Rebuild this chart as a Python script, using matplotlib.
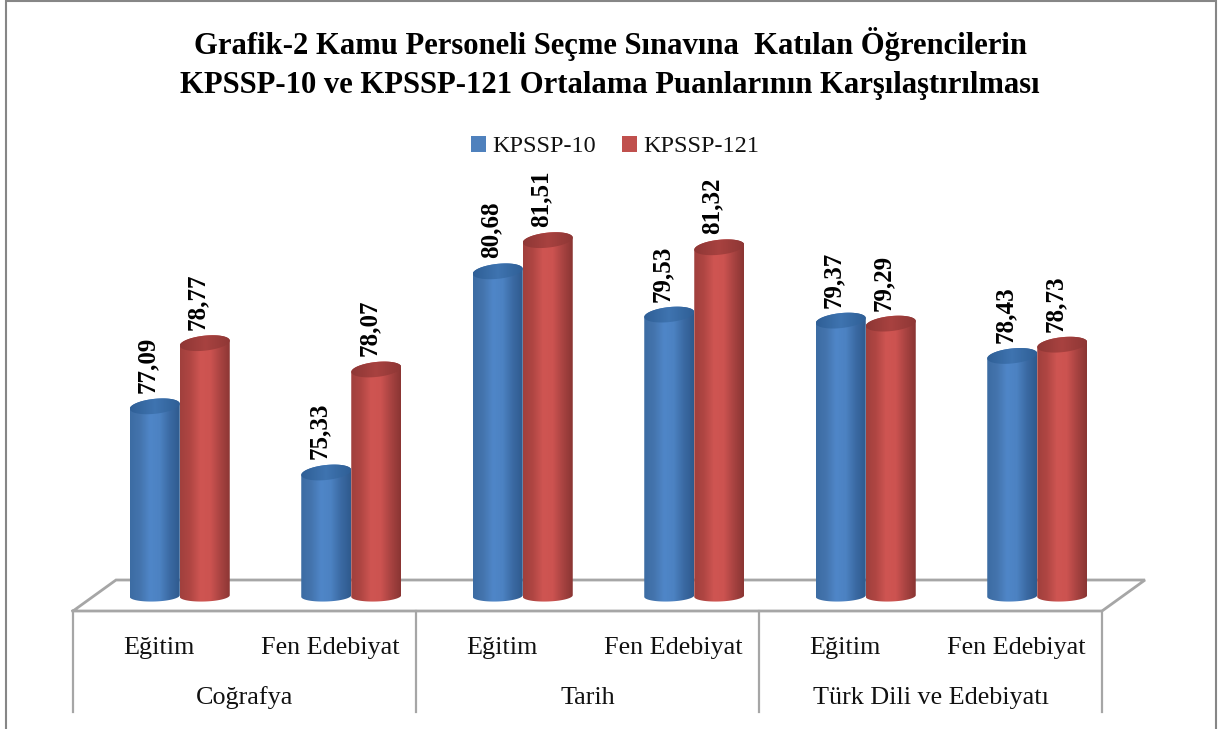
import numpy as np
import matplotlib
matplotlib.use("Agg")
import matplotlib.pyplot as plt
from matplotlib.colors import LinearSegmentedColormap
from matplotlib.lines import Line2D
from matplotlib.patches import PathPatch, Patch
from matplotlib.path import Path
from matplotlib.transforms import Affine2D

title_lines = ["Grafik-2 Kamu Personeli Seçme Sınavına  Katılan Öğrencilerin",
               "KPSSP-10 ve KPSSP-121 Ortalama Puanlarının Karşılaştırılması"]
faculties = ["Eğitim", "Fen Edebiyat", "Eğitim", "Fen Edebiyat", "Eğitim", "Fen Edebiyat"]
departments = ["Coğrafya", "Tarih", "Türk Dili ve Edebiyatı"]
series_names = ["KPSSP-10", "KPSSP-121"]
kpssp10 = [77.09, 75.33, 80.68, 79.53, 79.37, 78.43]
kpssp121 = [78.77, 78.07, 81.51, 81.32, 79.29, 78.73]

W, H = 1220, 729
SERIF = "Liberation Serif"
GRAY = "#a6a6a6"

fig = plt.figure(figsize=(W / 100, H / 100), dpi=100, facecolor="white")
left, right, top, bottom = 73, 1102, 200, 611
ax = fig.add_axes([left / W, 1 - bottom / H, (right - left) / W, (bottom - top) / H])

PX_PER_UNIT = 37.6
REF_VAL, REF_PX = 75.33, 472.5
y_of = lambda px: REF_VAL + (REF_PX - px) / PX_PER_UNIT
ax.set_xlim(0, 6)
ax.set_ylim(y_of(bottom), y_of(top))
px_x = 6 / (right - left)
px_y = 1 / PX_PER_UNIT
BASE = y_of(596)

cm_blue = LinearSegmentedColormap.from_list("b", ["#3c6ca3", "#4474ad", "#4f86c8", "#4c82c2", "#3b6aa3", "#2f5a8e"])
cm_red = LinearSegmentedColormap.from_list("r", ["#a0403d", "#b04643", "#cf5552", "#cc5350", "#a84341", "#8a3533"])
cm_blue_top = LinearSegmentedColormap.from_list("bt", ["#2f5f96", "#3f74b0", "#2f5f96"])
cm_red_top = LinearSegmentedColormap.from_list("rt", ["#8e3735", "#a84240", "#8e3735"])
grad = np.linspace(0, 1, 128).reshape(1, -1)


def ellipse_pts(xc, yc, a, b, tilt, t):
    xs = xc + a * np.cos(t)
    ys = yc + b * np.sin(t) + tilt * (xs - xc) / a
    return xs, ys


def cylinder(xc, value, cmap, cmap_top, z):
    a = 25 * px_x
    b_top, b_base = 7.5 * px_y, 5.5 * px_y
    tilt_top, tilt_base = 2.5 * px_y, 0.8 * px_y
    xb, yb = ellipse_pts(xc, BASE, a, b_base, tilt_base, np.linspace(np.pi, 2 * np.pi, 40))
    xt, yt = ellipse_pts(xc, value, a, b_top, tilt_top, np.linspace(0, np.pi, 40))
    verts = np.column_stack([np.r_[xb, xt, xb[0]], np.r_[yb, yt, yb[0]]])
    body = PathPatch(Path(verts), fc="none", ec="none", transform=ax.transData)
    ax.add_patch(body)
    im = ax.imshow(grad, cmap=cmap, extent=[xc - a, xc + a, BASE - 1, value + 1],
                   aspect="auto", zorder=z, interpolation="bilinear")
    im.set_clip_path(body)
    xe, ye = ellipse_pts(xc, value, a, b_top, tilt_top, np.linspace(0, 2 * np.pi, 80))
    cap = PathPatch(Path(np.column_stack([xe, ye])), fc="none", ec="none", transform=ax.transData)
    ax.add_patch(cap)
    imt = ax.imshow(grad, cmap=cmap_top, extent=[xc - a, xc + a, value - 1, value + 1],
                    aspect="auto", zorder=z + 0.1, interpolation="bilinear")
    imt.set_clip_path(cap)


positions = np.arange(len(faculties)) + 0.5
shift = 21 * px_x
half = 25 * px_x
for xc, v1, v2 in zip(positions, kpssp10, kpssp121):
    cylinder(xc + shift - half, v1, cm_blue, cm_blue_top, 3)
    cylinder(xc + shift + half, v2, cm_red, cm_red_top, 4)
    for x, v in ((xc + shift - half, v1), (xc + shift + half, v2)):
        ax.text(x - 7 * px_x, v + 13 * px_y, f"{v:.2f}".replace(".", ","), rotation=90,
                ha="center", va="bottom", fontsize=18, fontweight="bold",
                family=SERIF, color="black", zorder=6)

ax.set_xlim(0, 6)
ax.set_ylim(y_of(bottom), y_of(top))
ax.patch.set_alpha(0)
ax.set_zorder(1)
for s in ax.spines.values():
    s.set_visible(False)
ax.set_yticks([])
ax.set_xticks(positions, faculties, family=SERIF, fontsize=18.8, color="#111111")
ax.tick_params(axis="x", length=0, pad=19)

pixel = Affine2D().scale(1 / W, -1 / H).translate(0, 1) + fig.transFigure


def rule(xs, ys, color=GRAY, lw=1.6, z=0):
    line = Line2D(xs, ys, color=color, lw=lw, transform=pixel, solid_joinstyle="miter", zorder=z)
    fig.add_artist(line)


# frame
rule([6, 6, 1216, 1216], [729, 1.5, 1.5, 729], color="#868686", lw=1.5)
# floor, behind the cylinders
rule([73, 116, 1145, 1102, 73], [611, 580, 580, 611, 611], lw=2)
# hierarchical axis separators
n_groups = len(departments)
for k in range(n_groups + 1):
    x = left + k * (right - left) / n_groups
    rule([x, x], [611, 712])
for k, name in enumerate(departments):
    fig.text((left + (k + 0.5) * (right - left) / n_groups) / W, 1 - 698 / H, name, ha="center", va="center",
             family=SERIF, fontsize=18.8, color="#111111")

for line, py in zip(title_lines, (44, 85)):
    fig.text(610 / W, 1 - py / H, line, ha="center", va="center", family=SERIF,
             fontweight="bold", fontsize=22.1, color="black")

handles = [Patch(fc="#4f81bd", ec="none"), Patch(fc="#c0504d", ec="none")]
fig.legend(handles, series_names, loc="center", bbox_to_anchor=(615 / W, 1 - 146.5 / H), ncol=2, frameon=False,
           prop={"family": SERIF, "size": 17.5}, handlelength=0.62, handleheight=0.62,
           handletextpad=0.25, columnspacing=1.1, labelcolor="#111111")

fig.savefig("out.png", dpi=100)
